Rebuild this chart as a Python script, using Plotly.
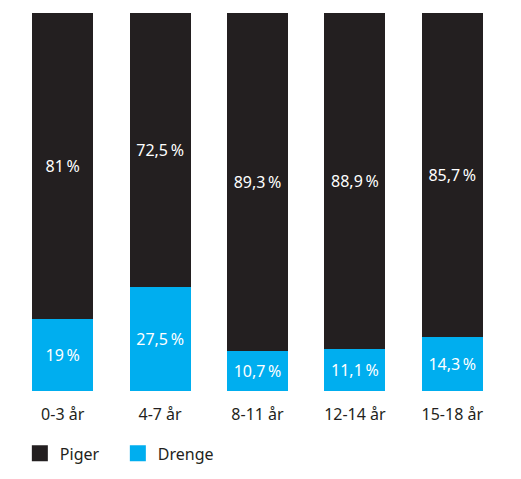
import plotly.graph_objects as go

categories = ["0-3 år", "4-7 år", "8-11 år", "12-14 år", "15-18 år"]
drenge = [19, 27.5, 10.7, 11.1, 14.3]
piger = [81, 72.5, 89.3, 88.9, 85.7]

def fmt(v):
    s = ("%g" % v).replace(".", ",")
    return s + "\u2009%"

font_family = "'Noto Sans', Roboto, sans-serif"
DARK = "#231F20"
BLUE = "#00AEEF"

fig = go.Figure()
fig.add_trace(go.Bar(
    x=categories, y=drenge, name="Drenge",
    marker=dict(color=BLUE, line=dict(width=0)),
    text=[fmt(v) for v in drenge], textposition="inside",
    insidetextanchor="middle",
    textfont=dict(color="white", size=16, family=font_family),
    hoverinfo="skip", showlegend=False,
))
fig.add_trace(go.Bar(
    x=categories, y=piger, name="Piger",
    marker=dict(color=DARK, line=dict(width=0)),
    text=[fmt(v) for v in piger], textposition="inside",
    insidetextanchor="middle",
    textfont=dict(color="white", size=16, family=font_family),
    hoverinfo="skip", showlegend=False,
))
# legend entries
for name, col in [("Piger", DARK), ("Drenge", BLUE)]:
    fig.add_trace(go.Scatter(
        x=[None], y=[None], mode="markers", name=name,
        marker=dict(symbol="square", size=16, color=col),
        hoverinfo="skip",
    ))

fig.update_layout(
    barmode="stack",
    bargap=0.374,
    width=521, height=479,
    margin=dict(l=14, r=20, t=13, b=88, autoexpand=False),
    plot_bgcolor="white", paper_bgcolor="white",
    font=dict(family=font_family, size=16, color=DARK),
    uniformtext=dict(mode="show", minsize=16),
    showlegend=True,
    legend=dict(
        orientation="h", x=0.012, xanchor="left", y=-0.12, yanchor="top",
        traceorder="normal", font=dict(size=16, color=DARK),
        itemwidth=30, entrywidth=53, entrywidthmode="pixels",
    ),
    xaxis=dict(showgrid=False, showline=False, ticks="", ticklabelstandoff=12,
               tickfont=dict(size=16, color=DARK)),
    yaxis=dict(visible=False, range=[0, 100], showgrid=False),
)

fig.write_html("out.html")
